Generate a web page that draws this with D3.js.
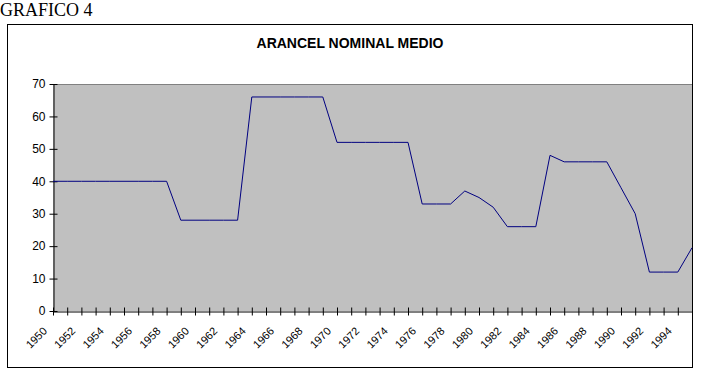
<!DOCTYPE html>
<html>
<head>
<meta charset="utf-8">
<script src="https://cdn.jsdelivr.net/npm/d3@7"></script>
<style>
  body { margin: 0; background: #fff; }
  svg { display: block; }
</style>
</head>
<body>
<svg id="chart" width="717" height="391"></svg>
<script>
// years 1950..1995 and tariff values
const years = [1950, 1951, 1952, 1953, 1954, 1955, 1956, 1957, 1958, 1959,
  1960, 1961, 1962, 1963, 1964, 1965, 1966, 1967, 1968, 1969,
  1970, 1971, 1972, 1973, 1974, 1975, 1976, 1977, 1978, 1979,
  1980, 1981, 1982, 1983, 1984, 1985, 1986, 1987, 1988, 1989,
  1990, 1991, 1992, 1993, 1994, 1995];
const arancel = [40, 40, 40, 40, 40, 40, 40, 40, 40, 28,
  28, 28, 28, 28, 66, 66, 66, 66, 66, 66,
  52, 52, 52, 52, 52, 52, 33, 33, 33, 37,
  35, 32, 26, 26, 26, 48, 46, 46, 46, 46,
  38, 30, 12, 12, 12, 19.5];
const yTicks = [0, 10, 20, 30, 40, 50, 60, 70];
const xLabels = years.filter(y => y % 2 === 0 && y < 1995);

const svg = d3.select("#chart");

// outer frame
svg.append("rect")
  .attr("x", 7.5).attr("y", 24.5)
  .attr("width", 685).attr("height", 343)
  .attr("fill", "none").attr("stroke", "#000");

svg.append("text")
  .attr("x", 0).attr("y", 16)
  .attr("font-family", "Liberation Serif, Times New Roman, serif")
  .attr("font-size", 18)
  .text("GRAFICO 4");

svg.append("text")
  .attr("x", 350).attr("y", 48)
  .attr("text-anchor", "middle")
  .attr("font-family", "Liberation Sans, Arial, sans-serif")
  .attr("font-weight", "bold")
  .attr("font-size", 14)
  .text("ARANCEL NOMINAL MEDIO");

const plotL = 53, plotR = 692, plotT = 84, plotB = 311;

const x = d3.scaleLinear().domain([1950, 1995]).range([plotL, plotR]);
const y = d3.scaleLinear().domain([0, 70]).range([plotB, plotT]);

// plot area
svg.append("rect")
  .attr("x", plotL).attr("y", plotT)
  .attr("width", plotR - plotL).attr("height", plotB - plotT)
  .attr("fill", "#c0c0c0");
svg.append("line")
  .attr("x1", plotL).attr("x2", plotR)
  .attr("y1", plotT + 0.5).attr("y2", plotT + 0.5)
  .attr("stroke", "#808080");

// y axis
const yAxis = svg.append("g")
  .attr("transform", `translate(${plotL + 0.5},0)`)
  .call(d3.axisLeft(y).tickValues(yTicks).tickSize(4).tickPadding(4).tickSizeOuter(0));
yAxis.select(".domain").attr("stroke", "#000");
yAxis.selectAll(".tick line").attr("x2", 4).attr("x1", -4);
yAxis.selectAll("text")
  .attr("font-family", "Liberation Sans, Arial, sans-serif")
  .attr("font-size", 12)
  .attr("fill", "#000");

// x axis
const xAxis = svg.append("g")
  .attr("transform", `translate(0,${plotB + 0.5})`)
  .call(d3.axisBottom(x).tickValues(years.slice(0, 45)).tickSize(4).tickSizeOuter(0).tickFormat(""));
xAxis.select(".domain").attr("stroke", "#000");
xAxis.selectAll(".tick line").attr("y1", -4).attr("y2", 4);

svg.append("g").selectAll("text")
  .data(xLabels)
  .join("text")
  .attr("transform", d => `translate(${x(d) - 8},${plotB + 18}) rotate(-45)`)
  .attr("text-anchor", "end")
  .attr("dy", "0.35em")
  .attr("font-family", "Liberation Sans, Arial, sans-serif")
  .attr("font-size", 11)
  .text(d => d);

// series line
const line = d3.line()
  .x((d, i) => x(years[i]))
  .y(d => y(d));

svg.append("path")
  .datum(arancel)
  .attr("d", line)
  .attr("fill", "none")
  .attr("stroke", "#000080")
  .attr("stroke-width", 1);
</script>
</body>
</html>
